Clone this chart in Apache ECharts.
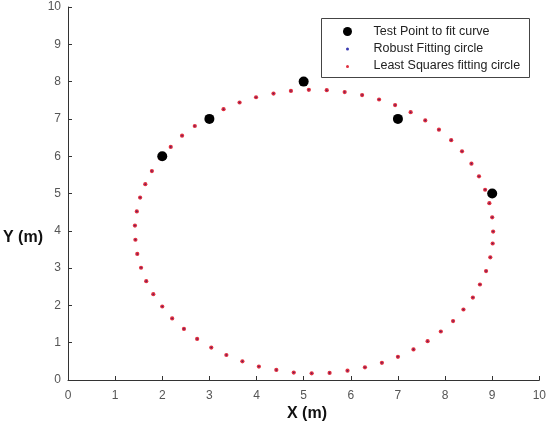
<!DOCTYPE html>
<html>
<head>
<meta charset="utf-8">
<script src="https://cdn.jsdelivr.net/npm/echarts@6/dist/echarts.min.js"></script>
<style>
  html, body { margin: 0; padding: 0; background: #fff; }
  #chart { width: 549px; height: 428px; }
</style>
</head>
<body>
<div id="chart"></div>
<script>
// Measured points the circles are fitted to
const testX = [2, 3, 5, 7, 9];
const testY = [6, 7, 8, 7, 5];

// Sampled points of the fitted circle (both fits fall on the same dots)
const circleX = [9.02, 9.00, 8.94, 8.85, 8.72, 8.56, 8.36, 8.13, 7.87, 7.58,
  7.27, 6.94, 6.60, 6.24, 5.87, 5.49, 5.11, 4.73, 4.36, 3.99,
  3.64, 3.30, 2.98, 2.69, 2.42, 2.18, 1.96, 1.78, 1.64, 1.53,
  1.46, 1.42, 1.43, 1.47, 1.55, 1.66, 1.81, 2.00, 2.21, 2.46,
  2.74, 3.04, 3.36, 3.70, 4.05, 4.42, 4.79, 5.17, 5.55, 5.93,
  6.30, 6.66, 7.00, 7.33, 7.63, 7.91, 8.17, 8.39, 8.59, 8.74,
  8.87, 8.96, 9.01];
const circleY = [3.98, 4.36, 4.74, 5.10, 5.46, 5.80, 6.13, 6.43, 6.71, 6.96,
  7.18, 7.37, 7.52, 7.64, 7.72, 7.77, 7.78, 7.75, 7.68, 7.58,
  7.44, 7.26, 7.05, 6.81, 6.55, 6.25, 5.94, 5.60, 5.25, 4.89,
  4.52, 4.14, 3.76, 3.38, 3.01, 2.65, 2.30, 1.97, 1.65, 1.37,
  1.10, 0.87, 0.67, 0.50, 0.36, 0.27, 0.20, 0.18, 0.19, 0.25,
  0.34, 0.46, 0.62, 0.82, 1.04, 1.30, 1.58, 1.89, 2.21, 2.56,
  2.92, 3.29, 3.66];

const seriesNames = ['Test Point to fit curve', 'Robust Fitting circle', 'Least Squares fitting circle'];
const xTitle = 'X (m)';
const yTitle = 'Y (m)';

const zip = (xs, ys) => xs.map((x, i) => [x, ys[i]]);

const FONT = '"Liberation Sans", Arial, sans-serif';
const chart = echarts.init(document.getElementById('chart'));

const axisCommon = {
  type: 'value',
  min: 0,
  max: 10,
  interval: 1,
  axisLine: { show: true, lineStyle: { color: '#333', width: 1 } },
  axisTick: { show: true, inside: true, length: 4, lineStyle: { color: '#333' } },
  splitLine: { show: false },
  axisLabel: { color: '#555', fontSize: 12, fontFamily: FONT }
};

chart.setOption({
  animation: false,
  backgroundColor: '#fff',
  grid: { left: 68, top: 7, width: 473, height: 373, containLabel: false },
  xAxis: Object.assign({}, axisCommon, { axisLabel: Object.assign({}, axisCommon.axisLabel, { margin: 10 }) }),
  yAxis: Object.assign({}, axisCommon, { axisLabel: Object.assign({}, axisCommon.axisLabel, { margin: 7 }) }),
  series: [
    {
      name: seriesNames[2],
      type: 'scatter',
      data: zip(circleX, circleY),
      symbolSize: 4.2,
      itemStyle: { color: '#e0303f', opacity: 1 },
      z: 2
    },
    {
      name: seriesNames[1],
      type: 'scatter',
      data: zip(circleX, circleY),
      symbolSize: 1.6,
      itemStyle: { color: '#5a1a60', opacity: 1 },
      z: 3
    },
    {
      name: seriesNames[0],
      type: 'scatter',
      data: zip(testX, testY),
      symbolSize: 10,
      itemStyle: { color: '#000', opacity: 1 },
      z: 4
    }
  ],
  graphic: [
    // axis titles
    {
      type: 'text', left: 287, top: 406,
      style: { text: xTitle, font: 'bold 16px ' + FONT, fill: '#111' }
    },
    {
      type: 'text', left: 3, top: 230,
      style: { text: yTitle, font: 'bold 16px ' + FONT, fill: '#111' }
    },
    // legend box
    {
      type: 'group', left: 321, top: 18,
      children: [
        { type: 'rect', shape: { x: 0, y: 0, width: 208, height: 59 },
          style: { fill: '#fff', stroke: '#444', lineWidth: 1 } },
        { type: 'circle', shape: { cx: 26, cy: 13, r: 4.5 }, style: { fill: '#000' } },
        { type: 'circle', shape: { cx: 26, cy: 30.5, r: 1.5 }, style: { fill: '#3a3ab0' } },
        { type: 'circle', shape: { cx: 26, cy: 48, r: 1.5 }, style: { fill: '#e0303f' } },
        { type: 'text', x: 52, y: 13.5,
          style: { text: seriesNames[0], font: '12.5px ' + FONT, fill: '#222', verticalAlign: 'middle' } },
        { type: 'text', x: 52, y: 30.5,
          style: { text: seriesNames[1], font: '12.5px ' + FONT, fill: '#222', verticalAlign: 'middle' } },
        { type: 'text', x: 52, y: 47.5,
          style: { text: seriesNames[2], font: '12.5px ' + FONT, fill: '#222', verticalAlign: 'middle' } }
      ]
    }
  ]
});
</script>
</body>
</html>
